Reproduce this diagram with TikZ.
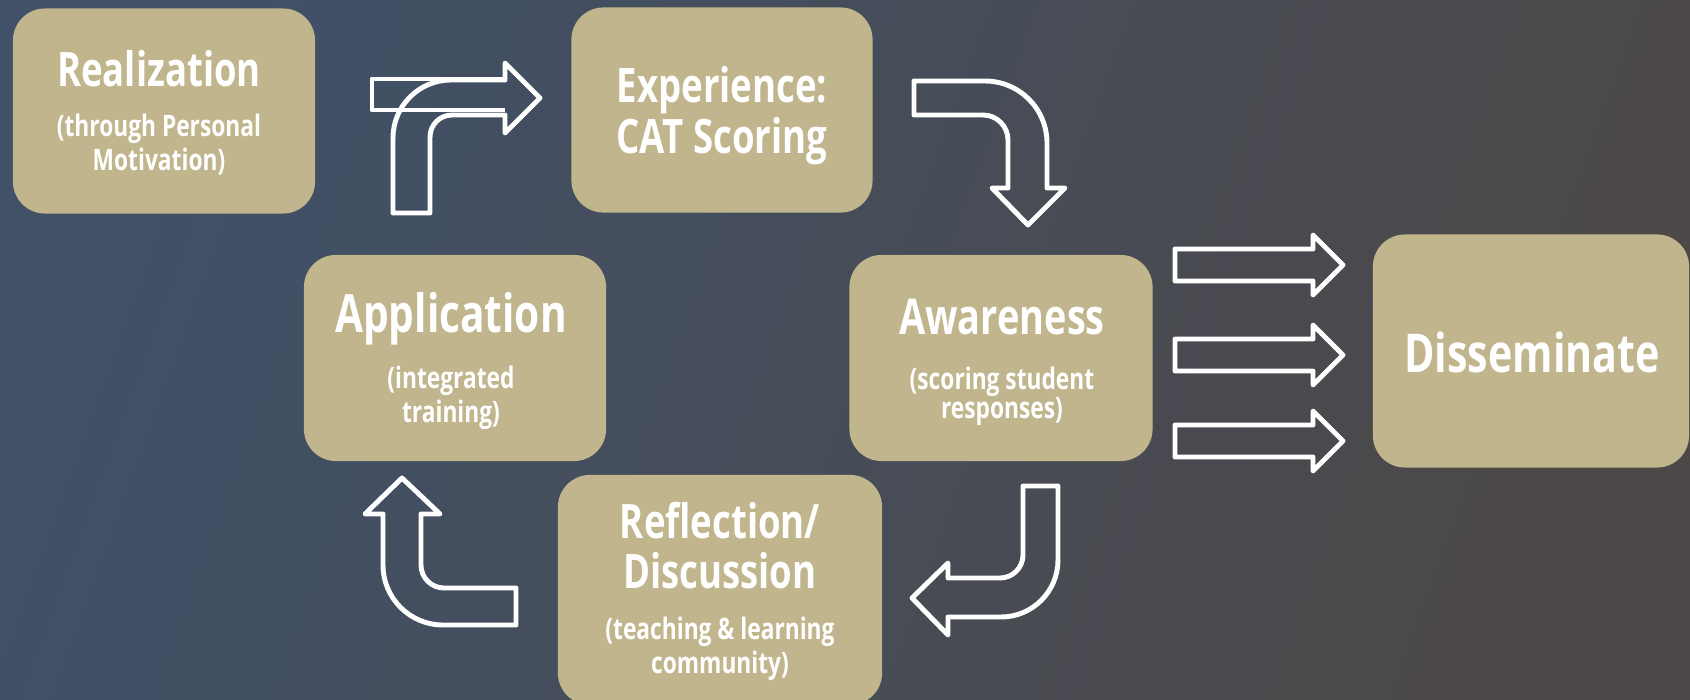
\documentclass[tikz,border=0pt]{standalone}
\usepackage{fontspec}
\setmainfont{Open Sans}[FakeStretch=0.77]
\usetikzlibrary{calc}
\definecolor{bgblue}{RGB}{64,81,104}
\definecolor{bggrey}{RGB}{76,72,72}
\definecolor{khaki}{RGB}{192,181,140}

\tikzset{
  box/.style={rounded corners=3.2mm, fill=khaki, inner sep=0pt},
  ttl/.style={text=white, align=center, inner sep=0pt, anchor=base,
    font=\bfseries\fontsize{13.5}{14.5}\selectfont},
  sub/.style={text=white, align=center, inner sep=0pt, anchor=base,
    font=\bfseries\fontsize{8.4}{8.1}\selectfont},
  barrow/.style={draw=white, line width=1.4pt, line join=round}
}

\begin{document}
\begin{tikzpicture}[x=0.01cm, y=-0.01cm]
        %Background
        \useasboundingbox (0,0) rectangle (1690,700);
        \shade[left color=bgblue, right color=bggrey, shading angle=70] (0,0) rectangle (1690,700);
        %Boxes
        \node[box, minimum width=30.2mm, minimum height=20.5mm] (real) at (164,111) {};
        \node[box, minimum width=30.1mm, minimum height=20.5mm] (exper) at (722,110) {};
        \node[box, minimum width=30.2mm, minimum height=20.6mm] (appl) at (455,358) {};
        \node[box, minimum width=30.3mm, minimum height=20.6mm] (aware) at (1001,358) {};
        \node[box, minimum width=32.4mm, minimum height=23mm] (refl) at (720,590) {};
        \node[box, minimum width=31.6mm, minimum height=23.3mm] (diss) at (1531,351) {};
        %Texts (base = last line)
        \node[ttl] (realT) at (159,87) {Realization};
        \node[sub] (realS) at (159,170) {(through Personal\\Motivation)};
        \node[ttl] (experT) at (722,153) {Experience:\\CAT Scoring};
        \node[ttl, font=\bfseries\fontsize{15}{16}\selectfont] (applT) at (451,332) {Application};
        \node[sub] (applS) at (451,422) {(integrated\\training)};
        \node[ttl, font=\bfseries\fontsize{14}{15}\selectfont] (awareT) at (1002,334) {Awareness};
        \node[sub] (awareS) at (1002,418) {(scoring student\\responses)};
        \node[ttl, font=\bfseries\fontsize{13.5}{14.2}\selectfont] (reflT) at (720,588) {Reflection/\\Discussion};
        \node[sub] (reflS) at (720,673) {(teaching \& learning\\community)};
        \node[ttl, font=\bfseries\fontsize{15.2}{16}\selectfont] (dissT) at (1532,372) {Disseminate};
        %Arrow: turn right
        \draw[barrow] (505,79) -- (372,79) -- (372,110) -- (505,110);
        \draw[barrow] (393,213) -- (393,138) arc[start angle=180, end angle=270, radius=58]
          -- (505,80) -- (505,63) -- (540,98) -- (505,133) -- (505,115) -- (452,115)
          arc[start angle=270, end angle=180, radius=22] -- (430,213) -- cycle;
        %Arrow: turn down
        \draw[barrow] (914,81) -- (985,81) arc[start angle=270, end angle=360, radius=62]
          -- (1047,188) -- (1065,188) -- (1028,225) -- (992,188) -- (1008,188) -- (1008,140)
          arc[start angle=0, end angle=-90, radius=25] -- (914,115) -- cycle;
        %Arrow: down and left
        \draw[barrow] (1058,486) -- (1058,560) arc[start angle=0, end angle=90, radius=57]
          -- (948,617) -- (948,635) -- (912,598) -- (948,563) -- (948,578) -- (1000,578)
          arc[start angle=90, end angle=0, radius=23] -- (1023,486) -- cycle;
        %Arrow: left and up
        \draw[barrow] (516,625) -- (443,625) arc[start angle=90, end angle=180, radius=60]
          -- (383,514) -- (365,514) -- (402,478) -- (440,514) -- (421,514) -- (421,565)
          arc[start angle=180, end angle=90, radius=23] -- (516,588) -- cycle;
        %Arrows to Disseminate
        \foreach \yc in {265,355,441}
          \draw[barrow] (1175,\yc-16) -- (1313,\yc-16) -- (1313,\yc-30) -- (1343,\yc)
            -- (1313,\yc+30) -- (1313,\yc+16) -- (1175,\yc+16) -- cycle;
      \end{tikzpicture}
\end{document}
